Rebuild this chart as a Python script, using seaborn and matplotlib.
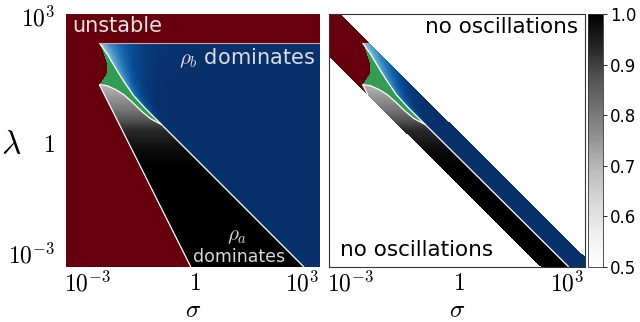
import numpy as np
import matplotlib
matplotlib.use("Agg")
import matplotlib.pyplot as plt
import seaborn as sns

plt.rcParams['mathtext.fontset'] = 'cm'
plt.rcParams['font.family'] = ['DejaVu Sans']

# ---- axis extents in log10 units (x = log10 sigma, y = log10 lambda)
x_range = [-3.6, 3.5]
y_range = [-3.55, 3.52]
x_ticks = [-3, 0, 3]
x_tick_labels = [r'$10^{-3}$', r'$1$', r'$10^{3}$']
y_ticks = [3.45, -0.08, -3.17]
y_tick_labels = [r'$10^{3}$', r'$1\;$', r'$10^{-3}$']

# ---- phase boundaries (log10 units)
unstable_log_lambda = 2.71
cusp_x = [-2.67, -2.60, -2.54, -2.48, -2.45, -2.46, -2.54, -2.60, -2.67]
cusp_y = [2.73, 2.56, 2.37, 2.19, 2.00, 1.86, 1.74, 1.65, 1.55]
stab_x = [-2.67, -0.11]
stab_y = [1.55, -3.55]
blue_x = [-2.67, -2.46, -2.23, -2.00, -1.72, -1.45, 3.05]
blue_y = [2.71, 2.42, 2.03, 1.66, 1.25, 0.95, -3.55]
green_x = [-2.67, -2.46, -2.23, -2.00, -1.76, -1.53, -1.25, -0.93]
green_y = [1.55, 1.52, 1.42, 1.28, 1.07, 0.84, 0.60, 0.43]
band_low = -1.27   # log10(lambda*sigma) lower edge of oscillating band
band_high = 0.23   # upper edge

# ---- shading
grey_y = [-0.84, -0.28, 0.28, 0.84, 1.26, 1.55]
grey_v = [1.00, 0.98, 0.93, 0.81, 0.74, 0.70]
blue_edge_y = [0.4, 1.0, 1.6, 2.2, 2.71]
blue_edge_v = [0.97, 0.86, 0.78, 0.72, 0.68]
blue_edge_w = [0.04, 0.14, 0.25, 0.38, 0.5]
green_v = 0.84
red_v = 1.0
cbar_ticks = [0.5, 0.6, 0.7, 0.8, 0.9, 1.0]

NX, NY = 256, 253
x0, x1 = x_range
y0, y1 = y_range
xc = x0 + (np.arange(NX) + 0.5) * (x1 - x0) / NX
yc = y1 - (np.arange(NY) + 0.5) * (y1 - y0) / NY
X, Y = np.meshgrid(xc, yc)

cusp_line = np.interp(Y, cusp_y[::-1], cusp_x[::-1])
stab_line = np.interp(Y, stab_y[::-1], stab_x[::-1])
red = (Y > unstable_log_lambda) | ((Y >= 1.55) & (X < cusp_line)) | ((Y < 1.55) & (X < stab_line))
blue = ~red & (Y > np.interp(X, blue_x, blue_y))
green = ~red & ~blue & (X < green_x[-1]) & (Y > np.interp(X, green_x, green_y))
grey = ~red & ~blue & ~green

red_vals = np.full(X.shape, red_v)
green_vals = np.full(X.shape, green_v)
grey_vals = np.interp(Y, grey_y, grey_v)
d = X - np.interp(Y, blue_y[::-1], blue_x[::-1])
ev = np.interp(Y, blue_edge_y, blue_edge_v)
ew = np.interp(Y, blue_edge_y, blue_edge_w)
blue_vals = 1 - (1 - ev) * np.exp(-np.clip(d, 0, None) / ew)

S = X + Y
band = (S >= band_low) & (S <= band_high)

def hx(x):
    return (np.asarray(x, float) - x0) / (x1 - x0) * NX

def hy(y):
    return (y1 - np.asarray(y, float)) / (y1 - y0) * NY

def densify(xs, ys, n=800):
    xs = np.asarray(xs, float); ys = np.asarray(ys, float)
    seg = np.hypot(np.diff(xs), np.diff(ys))
    t = np.concatenate([[0], np.cumsum(seg)])
    tt = np.linspace(0, t[-1], n)
    return np.interp(tt, t, xs), np.interp(tt, t, ys)

fig = plt.figure(figsize=(6.4, 3.22), dpi=100)
H = 253 / 322
B = 1 - 267 / 322
ax1 = fig.add_axes([66 / 640, B, 254 / 640, H])
ax2 = fig.add_axes([329 / 640, B, 256 / 640, H])
cax = fig.add_axes([588 / 640, B, 15 / 640, H])

layers = [(red, red_vals, 'Reds'), (blue, blue_vals, 'Blues'),
          (green, green_vals, 'Greens'), (grey, grey_vals, 'Greys')]

def draw(ax, keep, with_cbar):
    for reg, vals, cmap in layers:
        cb = with_cbar and cmap == 'Greys'
        sns.heatmap(vals, mask=~(reg & keep), cmap=cmap, vmin=0.5, vmax=1.0,
                    ax=ax, cbar=cb, cbar_ax=cax if cb else None,
                    cbar_kws={'ticks': cbar_ticks} if cb else None,
                    xticklabels=False, yticklabels=False)
    lines = [(stab_x, stab_y, 'white', 0.9),
             (blue_x, blue_y, 'white', 0.9),
             (green_x, green_y, 'white', 0.9),
             ([blue_x[0], x1], [unstable_log_lambda] * 2, '#d9a0a8', 0.8)]
    for lx, ly, col, lw in lines:
        px, py = densify(lx, ly)
        if keep is band:
            s = px + py
            px = np.where((s >= band_low) & (s <= band_high), px, np.nan)
        ax.plot(hx(px), hy(py), color=col, lw=lw, solid_capstyle='butt')
    ax.set_xlim(0, NX)
    ax.set_ylim(NY, 0)
    ax.set_xticks(hx(x_ticks))
    ax.set_xticklabels(x_tick_labels)
    ax.tick_params(axis='both', length=0, labelsize=17, pad=3)
    ax.set_xlabel(r'$\sigma$', fontsize=18, labelpad=1)

draw(ax1, np.ones_like(band), False)
ax1.set_yticks(hy(y_ticks))
ax1.set_yticklabels(y_tick_labels)
ax1.tick_params(axis='y', pad=8)
for sp in ax1.spines.values():
    sp.set_visible(False)

draw(ax2, band, True)
ax2.set_yticks([])
for sp in ax2.spines.values():
    sp.set_visible(True)
    sp.set_color('#333333')
    sp.set_linewidth(0.8)

cb = ax2.collections[-1].colorbar
cb.ax.tick_params(labelsize=12, length=3, width=0.6, pad=2)
cb.outline.set_linewidth(0.6)
cb.outline.set_edgecolor('#333333')

fig.text(11 / 640, 1 - 145 / 322, r'$\lambda$', fontsize=24, ha='center', va='center')

ax1.text(0.024, 0.953, 'unstable', transform=ax1.transAxes, fontsize=15,
         color='#e6e0e0', ha='left', va='center')
ax1.text(0.98, 0.826, r'$\rho_b$ dominates', transform=ax1.transAxes, fontsize=15,
         color='#dcdce4', ha='right', va='center')
ax1.text(0.673, 0.123, r'$\rho_a$', transform=ax1.transAxes, fontsize=15,
         color='#d8d8d8', ha='center', va='center')
ax1.text(0.681, 0.040, 'dominates', transform=ax1.transAxes, fontsize=12.5,
         color='#d8d8d8', ha='center', va='center')
ax2.text(0.973, 0.949, 'no oscillations', transform=ax2.transAxes, fontsize=15.5,
         color='black', ha='right', va='center')
ax2.text(0.043, 0.067, 'no oscillations', transform=ax2.transAxes, fontsize=15.5,
         color='black', ha='left', va='center')

fig.savefig('out.png', dpi=100)
